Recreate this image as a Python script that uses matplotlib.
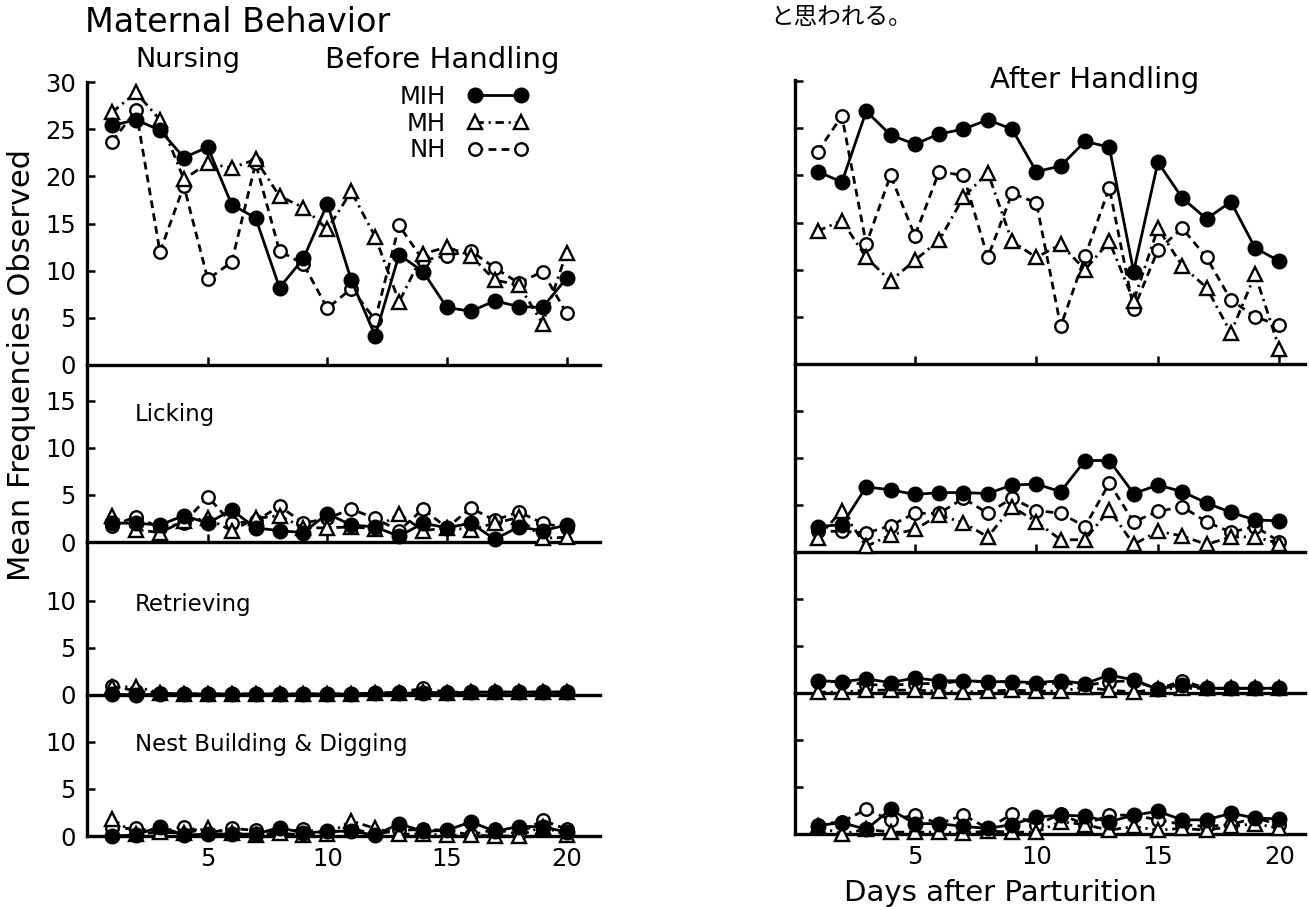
import matplotlib
matplotlib.use('Agg')
import matplotlib.pyplot as plt

# ---------------- data ----------------
days = list(range(1, 21))
groups = ['MIH', 'MH', 'NH']

# Nursing
nurse_before_MIH = [25.4, 26.0, 24.9, 22.0, 23.1, 17.0, 15.6, 8.2, 11.3, 17.1, 9.0, 3.1, 11.7, 9.9, 6.1, 5.7, 6.8, 6.2, 6.1, 9.2]
nurse_before_MH = [26.8, 28.9, 26.0, 19.7, 21.4, 20.9, 21.8, 17.9, 16.7, 14.4, 18.4, 13.6, 6.7, 11.8, 12.5, 11.6, 9.0, 8.5, 4.4, 11.9]
nurse_before_NH = [23.7, 27.0, 12.0, 19.0, 9.1, 10.9, 21.4, 12.1, 10.7, 6.0, 8.1, 4.8, 14.8, 11.1, 11.6, 12.1, 10.3, 8.7, 9.9, 5.5]
nurse_after_MIH = [20.4, 19.3, 26.8, 24.3, 23.3, 24.4, 24.9, 25.9, 24.9, 20.4, 21.0, 23.6, 23.0, 9.8, 21.4, 17.6, 15.4, 17.2, 12.3, 10.9]
nurse_after_MH = [14.1, 15.2, 11.3, 8.8, 11.0, 13.1, 17.7, 20.3, 13.0, 11.3, 12.7, 10.0, 13.0, 6.7, 14.4, 10.4, 8.1, 3.3, 9.5, 1.6]
nurse_after_NH = [22.5, 26.3, 12.7, 20.0, 13.6, 20.4, 20.0, 11.3, 18.1, 17.1, 4.0, 11.4, 18.7, 5.8, 12.1, 14.4, 11.3, 6.8, 5.0, 4.1]

# Licking
lick_before_MIH = [2.0, 2.0, 1.8, 2.8, 2.0, 3.4, 1.5, 1.2, 1.0, 3.0, 1.8, 1.6, 0.6, 2.0, 1.5, 2.0, 0.3, 1.6, 1.2, 1.8]
lick_before_MH = [2.8, 1.3, 1.0, 2.2, 2.5, 1.2, 2.5, 2.8, 1.5, 1.5, 1.6, 1.4, 3.0, 1.2, 1.5, 1.3, 2.0, 2.6, 0.4, 0.5]
lick_before_NH = [1.7, 2.7, 1.5, 2.0, 4.8, 2.0, 2.2, 3.8, 2.0, 2.5, 3.5, 2.5, 1.2, 3.5, 1.5, 3.6, 2.3, 3.2, 2.0, 1.5]
lick_after_MIH = [2.7, 2.9, 6.9, 6.6, 6.1, 6.3, 6.3, 6.2, 7.1, 7.2, 6.4, 9.7, 9.7, 6.2, 7.1, 6.4, 5.2, 4.2, 3.4, 3.3]
lick_after_MH = [1.5, 4.4, 0.6, 1.8, 2.4, 3.9, 3.1, 1.6, 4.8, 3.2, 1.3, 1.3, 4.5, 0.8, 2.2, 1.7, 0.8, 1.6, 1.6, 0.9]
lick_after_NH = [2.2, 2.2, 2.0, 2.8, 4.1, 4.1, 5.7, 4.1, 5.7, 4.4, 4.1, 2.7, 7.3, 3.2, 4.3, 4.8, 3.2, 2.1, 2.7, 1.1]

# Retrieving
retr_before_MIH = [0.1, 0.0, 0.1, 0.1, 0.1, 0.1, 0.1, 0.1, 0.1, 0.1, 0.1, 0.2, 0.2, 0.2, 0.2, 0.3, 0.3, 0.3, 0.3, 0.3]
retr_before_MH = [0.8, 0.9, 0.2, 0.1, 0.1, 0.1, 0.1, 0.1, 0.1, 0.1, 0.1, 0.2, 0.2, 0.3, 0.2, 0.3, 0.3, 0.3, 0.3, 0.3]
retr_before_NH = [1.0, 0.4, 0.2, 0.1, 0.1, 0.1, 0.1, 0.1, 0.1, 0.1, 0.1, 0.2, 0.3, 0.7, 0.3, 0.3, 0.3, 0.3, 0.3, 0.3]
retr_after_MIH = [1.3, 1.2, 1.5, 1.1, 1.6, 1.3, 1.3, 1.2, 1.2, 1.1, 1.3, 1.0, 1.9, 1.4, 0.4, 0.9, 0.5, 0.5, 0.5, 0.5]
retr_after_MH = [0.1, 0.1, 0.3, 0.3, 0.3, 0.2, 0.1, 0.2, 0.3, 0.2, 0.2, 0.6, 0.3, 0.1, 0.4, 0.5, 0.5, 0.5, 0.5, 0.5]
retr_after_NH = [1.2, 1.2, 0.9, 0.8, 1.0, 1.0, 1.3, 1.2, 1.2, 0.9, 1.1, 0.8, 1.2, 1.3, 0.4, 1.3, 0.5, 0.5, 0.5, 0.5]

# Nest building & digging
nest_before_MIH = [0.0, 0.1, 1.0, 0.1, 0.2, 0.2, 0.2, 0.9, 0.3, 0.5, 0.5, 0.1, 1.3, 0.5, 0.6, 1.5, 0.5, 1.0, 1.0, 0.4]
nest_before_MH = [1.8, 0.2, 0.4, 0.3, 0.8, 0.3, 0.1, 0.3, 0.1, 0.2, 1.6, 0.8, 0.2, 0.2, 0.1, 0.1, 0.0, 0.0, 1.0, 0.1]
nest_before_NH = [0.8, 0.8, 0.4, 1.0, 0.3, 0.8, 0.6, 0.4, 0.7, 0.3, 0.8, 0.2, 0.6, 0.7, 0.6, 0.1, 0.7, 0.2, 1.7, 0.7]
nest_after_MIH = [0.9, 1.2, 0.5, 2.6, 1.1, 1.1, 0.8, 0.6, 1.0, 1.8, 2.0, 1.9, 1.3, 2.0, 2.4, 1.5, 1.5, 2.2, 1.7, 1.6]
nest_after_MH = [0.8, 0.0, 0.5, 0.2, 0.2, 0.2, 0.1, 0.3, 0.2, 0.2, 1.3, 1.0, 0.4, 0.8, 0.4, 0.6, 0.4, 0.8, 1.1, 0.6]
nest_after_NH = [1.0, 1.3, 2.6, 1.5, 2.0, 1.1, 2.0, 0.6, 2.1, 1.0, 2.1, 1.0, 2.0, 2.0, 1.5, 1.0, 0.8, 1.0, 1.7, 1.0]

x_ticks = [5, 10, 15, 20]
nurse_ticks = [0, 5, 10, 15, 20, 25, 30]
lick_ticks = [0, 5, 10, 15]
small_ticks = [0, 5, 10]

before = [
    ('Nursing', [nurse_before_MIH, nurse_before_MH, nurse_before_NH], nurse_ticks),
    ('Licking', [lick_before_MIH, lick_before_MH, lick_before_NH], lick_ticks),
    ('Retrieving', [retr_before_MIH, retr_before_MH, retr_before_NH], small_ticks),
    ('Nest Building & Digging', [nest_before_MIH, nest_before_MH, nest_before_NH], small_ticks),
]
after = [
    ('Nursing', [nurse_after_MIH, nurse_after_MH, nurse_after_NH], nurse_ticks),
    ('Licking', [lick_after_MIH, lick_after_MH, lick_after_NH], lick_ticks),
    ('Retrieving', [retr_after_MIH, retr_after_MH, retr_after_NH], small_ticks),
    ('Nest', [nest_after_MIH, nest_after_MH, nest_after_NH], small_ticks),
]

# ---------------- layout ----------------
W, H = 1309, 907
fig = plt.figure(figsize=(W / 100, H / 100), dpi=100)
plt.rcParams['font.family'] = ['DejaVu Sans']

def rect(x0, y_top, x1, y_bot):
    return [x0 / W, 1 - y_bot / H, (x1 - x0) / W, (y_bot - y_top) / H]

PX_PER_UNIT = 9.43
left_rows = [(82, 365), (365, 542), (542, 695), (695, 836)]
right_rows = [(80, 364), (364, 552), (552, 693), (693, 834)]

LW = 2.0
styles = {
    'MIH': dict(ls='-', marker='o', mfc='black', mec='black', ms=10, mew=1.5, zorder=5),
    'MH': dict(ls=(0, (3.0, 1.7, 0.8, 1.7)), marker='^', mfc='white', mec='black', ms=10, mew=1.7, zorder=4),
    'NH': dict(ls=(0, (2.8, 1.9)), marker='o', mfc='white', mec='black', ms=9, mew=1.7, zorder=3),
}

def style_axes(ax, yticks, ylabels, xlabels):
    for s in ['top', 'right']:
        ax.spines[s].set_visible(False)
    for s in ['left', 'bottom']:
        ax.spines[s].set_linewidth(2.4)
    ax.set_yticks(yticks)
    ax.set_xticks(x_ticks)
    ax.tick_params(direction='in', length=6, width=1.8, labelsize=17.5, pad=8)
    ax.tick_params(axis='y', labelleft=ylabels)
    ax.tick_params(axis='x', labelbottom=xlabels)

def draw_column(rows, panels, xlim, ylabels):
    axes = []
    for i, ((yt, yb), (name, series, yticks)) in enumerate(zip(rows, panels)):
        x0, x1 = xlim[0], xlim[1]
        ax = fig.add_axes(rect(x0, yt, x1, yb))
        ax.patch.set_alpha(0)
        for g, vals in zip(groups, series):
            ax.plot(days, vals, color='black', lw=LW, label=g, clip_on=False, **styles[g])
        ax.set_xlim(*xlim[2])
        ax.set_ylim(0, (yb - yt) / PX_PER_UNIT)
        style_axes(ax, yticks, ylabels, i == len(rows) - 1)
        axes.append(ax)
    return axes

left_axes = draw_column(left_rows, before, (87, 600, (-0.05, 21.4)), True)
right_axes = draw_column(right_rows, after, (795, 1305, (0.07, 21.05)), False)

# legend
leg = left_axes[0].legend(loc='upper left', bbox_to_anchor=(0.59, 1.025), frameon=False,
                          markerfirst=False, numpoints=2, handlelength=2.5,
                          handletextpad=0.9, labelspacing=0.12, fontsize=17.5,
                          borderaxespad=0.0)

# texts
fig.text(85 / W, 1 - 22 / H, 'Maternal Behavior', fontsize=24, va='center', ha='left')
fig.text(135 / W, 1 - 60 / H, 'Nursing', fontsize=19.5, va='center', ha='left')
fig.text(325 / W, 1 - 60 / H, 'Before Handling', fontsize=21, va='center', ha='left')
fig.text(990 / W, 1 - 80 / H, 'After Handling', fontsize=21, va='center', ha='left')
fig.text(135 / W, 1 - 415 / H, 'Licking', fontsize=16.5, va='center', ha='left')
fig.text(135 / W, 1 - 605 / H, 'Retrieving', fontsize=16.5, va='center', ha='left')
fig.text(135 / W, 1 - 745 / H, 'Nest Building & Digging', fontsize=16.5, va='center', ha='left')
fig.text(22 / W, 1 - 365 / H, 'Mean Frequencies Observed', fontsize=22, rotation=90,
         va='center', ha='center')
fig.text(1000 / W, 1 - 893 / H, 'Days after Parturition', fontsize=21, va='center', ha='center')
fig.text(770 / W, 1 - 18 / H, 'と思われる。', fontsize=17, va='center', ha='left',
         family=['Noto Sans CJK JP', 'DejaVu Sans'])

fig.savefig('out.png', dpi=100)
